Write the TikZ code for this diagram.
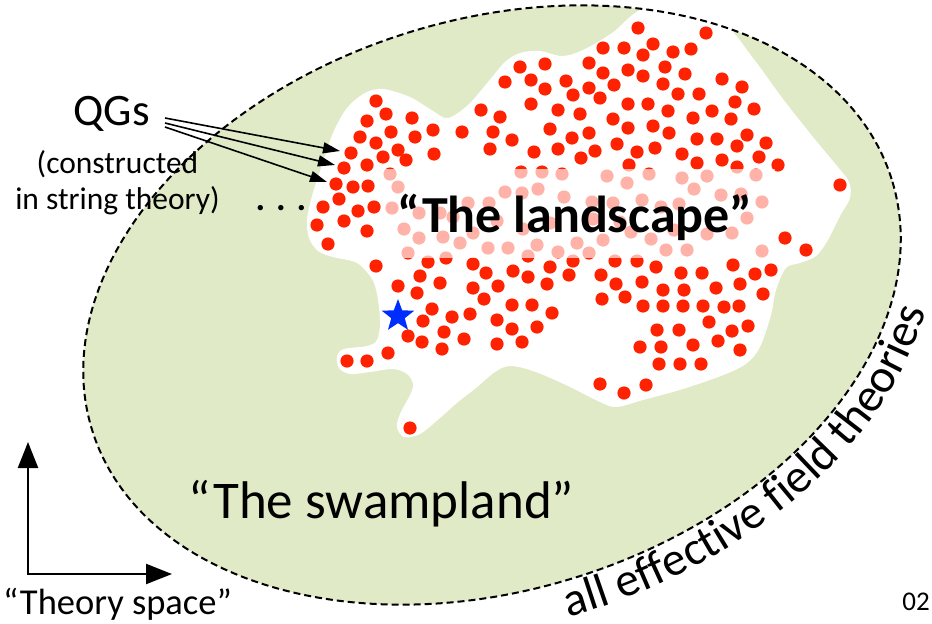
\documentclass[tikz,border=0pt]{standalone}
\usepackage{fontspec}
\setmainfont{Carlito}
\usetikzlibrary{arrows.meta,shapes.geometric,decorations.text}
\definecolor{swamp}{RGB}{224,234,198}
\definecolor{dotred}{RGB}{255,34,0}
\definecolor{starblue}{RGB}{0,45,255}
\begin{document}
\begin{tikzpicture}[x=1pt,y=-1pt,
  lbl/.style={inner sep=0pt, anchor=base},
  qgarrow/.style={line width=1.6pt, -{Triangle[length=17pt,width=11pt]}},
  axisarrow/.style={line width=2.3pt, {Triangle[length=26pt,width=20pt]}-{Triangle[length=26pt,width=20pt]}},
  efthull/.style={dash pattern=on 7pt off 4pt, line width=2pt},
  dotstyle/.style={fill=dotred}
]
\useasboundingbox (0,0) rectangle (932,624);
% all EFTs region
\begin{scope}[shift={(492pt,-305pt)}, x=1pt, y=1pt, rotate=17.5]
  \fill[swamp] (0,0) ellipse [x radius=419, y radius=285];
\end{scope}
% landscape blob
\fill[white] plot[smooth cycle, tension=0.55] coordinates {
(365,93) (383,89) (410,97) (433,111) (448,118) (468,105) (488,82) (505,62) (520,53) (540,51) (562,56) (583,50) (612,33) (640,10) (680,0) (723,22) (753,58) (783,99) (813,137) (837,166) (849,182) (850,198) (840,216) (828,240) (816,256) (800,263) (786,268) (776,290) (771,315) (760,347) (747,363) (726,374) (683,389) (643,400) (616,407) (598,401) (566,385) (533,371) (510,366) (495,372) (476,388) (458,402) (440,418) (420,434) (404,437) (397,427) (400,414) (410,395) (413,384) (407,374) (393,369) (370,372) (350,374) (339,368) (337,356) (344,349) (367,346) (377,340) (380,323) (378,300) (374,283) (366,271) (355,262) (333,257) (318,251) (309,238) (307,220) (312,196) (321,168) (333,133) (347,108)};
% dashed boundary and curved label
\begin{scope}[shift={(492pt,-305pt)}, x=1pt, y=1pt, rotate=17.5]
  \draw[efthull] (0,0) ellipse [x radius=419, y radius=285];
  \path[decorate, decoration={text along path, text align=center,
    text={|\fontsize{47.5}{47.5}\selectfont|all effective field theories}}]
    (-95:455 and 321) arc[start angle=-95, end angle=-22, x radius=455, y radius=321];
\end{scope}
% dots
\foreach \p in {(376,101),(386,114),(367,121),(412,118),(433,130),(462,132),(360,137),(391,132),(415,137),(376,143),(398,150),(351,153),(383,157),(406,160),(434,154),(344,168),(367,165),(336,184),(353,187),(368,186),(339,199),(323,207),(358,211),(374,207),(317,225),(344,221),(367,231),(328,244),(376,266),
(520,67),(545,64),(505,82),(531,80),(566,81),(545,89),(573,95),(531,104),(558,110),(580,114),(481,110),(500,117),(493,132),(550,129),(512,140),(572,138),(490,149),(534,152),(558,149),(581,158),
(638,28),(706,33),(603,48),(624,48),(653,44),(643,55),(673,52),(691,49),(589,63),(603,73),(628,70),(643,76),(665,67),(685,74),(722,79),(589,88),(614,85),(600,98),(663,84),(678,94),(699,94),(628,104),(648,104),(668,111),(712,111),(693,118),(731,119),(613,119),(628,128),(653,126),(669,133),(697,139),(717,139),(589,133),(595,151),(617,144),(637,152),(655,148),(682,154),(722,160),(629,165),(697,163),
(742,87),(735,102),(754,109),(747,135),(766,143),(737,146),(759,157),(778,165),(737,167),(840,185),(785,238),(806,250),
(428,262),(446,258),(420,276),(440,283),(398,286),(417,293),(432,309),(423,321),(444,332),(408,336),(422,342),(442,349),(388,353),(367,361),(347,361),(410,428),
(473,264),(486,273),(513,271),(528,277),(550,267),(569,275),(573,261),(498,286),(547,284),(601,275),(616,284),(615,261),(602,299),(625,297),(473,288),(484,299),(512,305),(532,305),(552,313),(470,314),(452,317),(497,320),(512,329),(537,327),(464,339),(497,344),(522,342),(528,256),
(637,261),(656,267),(681,273),(702,273),(733,265),(755,274),(771,270),(642,282),(663,290),(684,290),(716,288),(740,284),(763,294),(643,306),(663,306),(683,306),(703,306),(724,307),(739,306),(709,322),(657,330),(679,330),(732,331),(748,326),(640,347),(661,347),(693,345),(718,341),(740,350),(659,364),(680,364),(701,364),(600,384),(624,393),(646,385),
(390,174),(398,187),(392,208),(419,213),(440,213),(404,229),(419,238),(443,237),(460,243),(408,253),
(468,203),(489,203),(505,192),(522,193),(538,189),(521,172),(542,172),(562,174),(564,197),(453,217),(497,221),(523,229),(550,223),(473,233),(488,248),(508,248),(537,245),(558,252),(577,243),(589,253),(603,240),(607,176),(627,183),(592,202),(613,203),(642,200),(661,207),(679,204),(649,174),(682,178),(707,176),(694,189),(721,195),(741,194),(756,175),(762,202),(747,218),(732,233),(707,234),(674,230),(651,239),(631,232),(666,250),(687,250),(762,251),(593,219),(620,222)}
  \fill[dotstyle] \p circle[radius=6.6pt];
% pale band behind the title
\fill[white, opacity=0.66] (382,168.5) rectangle (775,258);
% star
\node[star, star points=5, star point ratio=2.4, fill=starblue, minimum size=34pt, inner sep=0pt] (ourworld) at (398,316) {};
% texts
\node[lbl, font=\bfseries\fontsize{52}{52}\selectfont] (land) at (575,232) {“The landscape”};
\node[lbl, font=\fontsize{53}{53}\selectfont] (swamp) at (381.5,518) {“The swampland”};
\node[lbl, font=\fontsize{45}{45}\selectfont] (qg) at (111.5,125) {QGs};
\node[lbl, font=\fontsize{31.5}{31.5}\selectfont] (cons1) at (117.5,173) {(constructed};
\node[lbl, font=\fontsize{31.5}{31.5}\selectfont] (cons2) at (117.5,209) {in string theory)};
\node[lbl, font=\bfseries\fontsize{36}{36}\selectfont] (more) at (281,210) {. . .};
\node[lbl, font=\fontsize{36.5}{36.5}\selectfont] (tspace) at (117.5,614) {“Theory space”};
\node[lbl, font=\fontsize{27}{27}\selectfont] (pnum) at (916,610) {02};
% QG arrows
\coordinate (q1s) at (165,118); \coordinate (q1e) at (340,151);
\coordinate (q2s) at (165,123); \coordinate (q2e) at (335,165);
\coordinate (q3s) at (165,127); \coordinate (q3e) at (327,182);
\draw[qgarrow] (q1s) -- (q1e);
\draw[qgarrow] (q2s) -- (q2e);
\draw[qgarrow] (q3s) -- (q3e);
% theory-space axes
\coordinate (orig) at (28,574);
\coordinate (ytip) at (28,442);
\coordinate (xtip) at (172,574);
\draw[axisarrow] (ytip) -- (orig) -- (xtip);
\end{tikzpicture}
\end{document}
